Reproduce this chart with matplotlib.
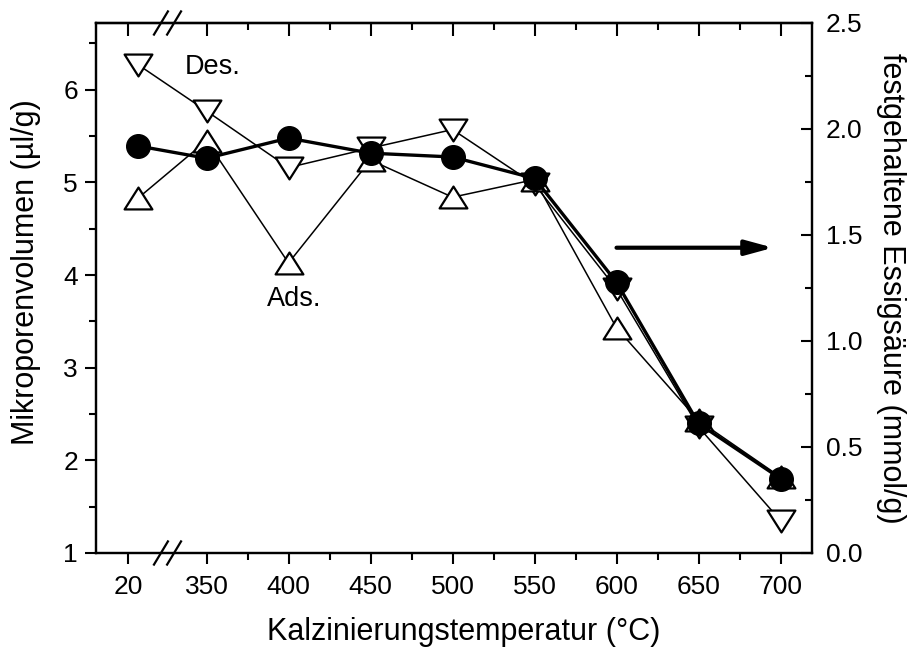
import matplotlib
matplotlib.use('Agg')
import matplotlib.pyplot as plt
from matplotlib.path import Path
from matplotlib.ticker import MultipleLocator, FixedLocator

plt.rcParams['font.family'] = ['Liberation Sans', 'DejaVu Sans']

# Kalzinierungstemperatur (°C)
temps = [20, 350, 400, 450, 500, 550, 600, 650, 700]
# Mikroporenvolumen (µl/g), Desorption / Adsorption
des = [6.27, 5.77, 5.16, 5.37, 5.57, 4.98, 3.85, 2.36, 1.35]
ads = [4.83, 5.45, 4.13, 5.24, 4.84, 5.03, 3.43, 2.43, 1.82]
# festgehaltene Essigsäure (mmol/g)
acid = [1.92, 1.862, 1.957, 1.886, 1.868, 1.767, 1.277, 0.611, 0.351]

tick_labels = [str(t) for t in temps]

# broken axis: 20 sits left of the break, the rest is linear
def pos(t, tick=False):
    if t < 350:
        return 0.046 if tick else 0.165
    return (t - 300) / 50.0

xs = [pos(t) for t in temps]
xticks = [pos(t, tick=True) for t in temps]

FS = 19
LFS = 22
fig = plt.figure(figsize=(9.08, 6.5), dpi=100)
ax = fig.add_axes([96 / 908, 1 - 553 / 650, 716 / 908, 530 / 650])
ax2 = ax.twinx()

# wide open triangles like the Origin symbols
tri_dn = Path([(-1.27, 1), (1.27, 1), (0, -1), (0, 0)], closed=True)
tri_up = Path([(-1.27, -1), (1.27, -1), (0, 1), (0, 0)], closed=True)

ax.plot(xs, des, color='k', lw=1.1, marker=tri_dn, ms=20, mfc='white', mec='k', mew=1.6)
ax.plot(xs, ads, color='k', lw=1.1, marker=tri_up, ms=20, mfc='white', mec='k', mew=1.6)
ax2.plot(xs, acid, color='k', lw=2.4, marker='o', ms=17, mfc='k', mec='k')

ax.set_xlim(-0.348, 8.384)
ax.set_ylim(1, 6.72)
ax2.set_ylim(0, 2.5)

ax.xaxis.set_major_locator(FixedLocator(xticks))
ax.set_xticklabels(tick_labels)
ax.xaxis.set_minor_locator(FixedLocator([i + 0.5 for i in range(1, 8)]))
ax.yaxis.set_major_locator(MultipleLocator(1))
ax.yaxis.set_minor_locator(MultipleLocator(0.5))
ax2.yaxis.set_major_locator(MultipleLocator(0.5))
ax2.yaxis.set_minor_locator(MultipleLocator(0.25))
ax2.yaxis.set_major_formatter(plt.FormatStrFormatter('%.1f'))

ax.tick_params(axis='x', which='both', direction='out', top=False, labelsize=FS, width=1.5, pad=8)
ax.tick_params(axis='x', which='major', length=8)
ax.tick_params(axis='x', which='minor', length=5)
ax.tick_params(axis='y', which='both', direction='out', labelsize=FS, width=1.5, pad=5)
ax.tick_params(axis='y', which='major', length=8)
ax.tick_params(axis='y', which='minor', length=5)
ax2.tick_params(axis='y', which='both', direction='in', labelsize=FS, width=1.5, pad=10)
ax2.tick_params(axis='y', which='major', length=8)
ax2.tick_params(axis='y', which='minor', length=5)

# top axis ticks pointing inward
top = ax.secondary_xaxis('top')
top.xaxis.set_major_locator(FixedLocator(xticks))
top.xaxis.set_minor_locator(FixedLocator([i + 0.5 for i in range(1, 8)]))
top.tick_params(axis='x', which='both', direction='in', labeltop=False, width=1.5)
top.tick_params(axis='x', which='major', length=9)
top.tick_params(axis='x', which='minor', length=5)
top.spines['top'].set_linewidth(1.6)

for a in (ax, ax2):
    for s in a.spines.values():
        s.set_linewidth(1.6)

ax.set_xlabel('Kalzinierungstemperatur (°C)', fontsize=LFS, labelpad=13)
ax.xaxis.label.set_x(0.513)
ax.set_ylabel('Mikroporenvolumen (µl/g)', fontsize=LFS, labelpad=16)
ax.yaxis.label.set_y(0.53)
ax2.set_ylabel('festgehaltene Essigsäure (mmol/g)', fontsize=LFS, rotation=270, labelpad=31)

ax.text(1.08, 6.25, 'Des.', fontsize=19.5, ha='center', va='center')
ax.text(2.07, 3.74, 'Ads.', fontsize=19.5, ha='center', va='center')

ax2.annotate('', xy=(7.91, 1.44), xytext=(6.0, 1.44),
             arrowprops=dict(arrowstyle='-|>,head_length=1.65,head_width=0.45',
                             lw=3, color='k', shrinkA=0, shrinkB=0, mutation_scale=10))

# axis break marks on bottom and top spines
brk = 0.524
for yb in (1.0, 6.72):
    for dx in (-0.08, 0.08):
        ax.plot([brk + dx - 0.085, brk + dx + 0.085], [yb - 0.125, yb + 0.125],
                color='k', lw=1.6, clip_on=False, zorder=5)

fig.savefig('out.png', dpi=100)
